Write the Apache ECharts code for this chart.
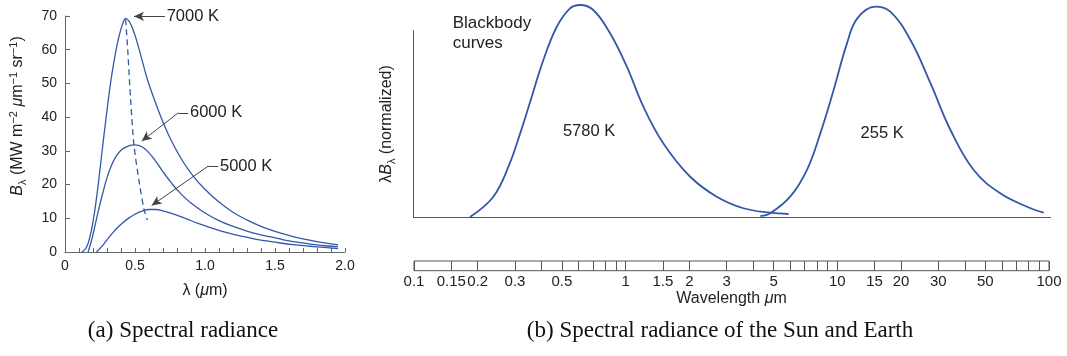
<!DOCTYPE html>
<html>
<head>
<meta charset="utf-8">
<script src="https://cdn.jsdelivr.net/npm/echarts@6/dist/echarts.min.js"></script>
<style>
  html, body { margin: 0; padding: 0; background: #fff; }
  #chart { width: 1067px; height: 356px; }
</style>
</head>
<body>
<div id="chart"></div>
<script>
// (a) spectral radiance, wavelength in um, B in MW m-2 um-1 sr-1
var lam7000 = [0.12, 0.15, 0.175, 0.2, 0.225, 0.25, 0.275, 0.3, 0.325, 0.35, 0.375, 0.4, 0.42, 0.433, 0.46, 0.49, 0.52, 0.55, 0.59, 0.64, 0.7, 0.76, 0.84, 0.92, 1.0, 1.1, 1.2, 1.3, 1.4, 1.5, 1.6, 1.7, 1.8, 1.9, 1.95]
var b7000 = [0, 1.2, 4.0, 9.0, 16.0, 24.5, 33.5, 42.0, 50.0, 56.5, 62.0, 66.2, 68.5, 69.3, 68.3, 65.5, 61.5, 57.0, 51.0, 45.0, 38.5, 33.0, 27.0, 22.3, 18.6, 14.8, 11.8, 9.5, 7.6, 6.1, 4.9, 3.9, 3.1, 2.4, 2.1]
var lam6000 = [0.165, 0.19, 0.215, 0.24, 0.27, 0.3, 0.33, 0.36, 0.4, 0.45, 0.5, 0.55, 0.6, 0.65, 0.7, 0.76, 0.82, 0.9, 1.0, 1.1, 1.2, 1.3, 1.4, 1.5, 1.6, 1.7, 1.8, 1.9, 1.95]
var b6000 = [0, 3.5, 8.0, 12.5, 17.5, 22.0, 25.5, 28.0, 30.2, 31.4, 31.8, 31.2, 29.4, 26.8, 23.8, 20.5, 17.6, 14.5, 11.6, 9.3, 7.6, 6.2, 5.1, 4.2, 3.3, 2.7, 2.1, 1.7, 1.5]
var lam5000 = [0.225, 0.26, 0.3, 0.35, 0.4, 0.45, 0.5, 0.55, 0.6, 0.65, 0.7, 0.75, 0.85, 0.95, 1.05, 1.15, 1.25, 1.35, 1.45, 1.55, 1.65, 1.75, 1.85, 1.95]
var b5000 = [0, 1.5, 3.6, 6.1, 8.2, 9.9, 11.2, 12.1, 12.6, 12.6, 12.2, 11.6, 10.1, 8.5, 7.1, 5.8, 4.8, 3.9, 3.2, 2.6, 2.1, 1.7, 1.35, 1.0]
var lamPeak = [0.433, 0.448, 0.469, 0.493, 0.531, 0.564, 0.588]
var bPeak = [69, 60, 45, 31.6, 20.5, 12.7, 9.5]
var tempLabels = ['7000 K', '6000 K', '5000 K']

// (b) normalized lambda*B, wavelength in um
var sunLam = [0.1845, 0.2377, 0.28, 0.318, 0.3605, 0.409, 0.473, 0.546, 0.609, 0.703, 0.843, 1.011, 1.21, 1.5, 2.01, 2.68, 3.58, 4.79, 5.84]
var sunVal = [0, 0.109, 0.27, 0.449, 0.646, 0.843, 1.021, 1.12, 1.138, 1.111, 0.986, 0.807, 0.592, 0.396, 0.216, 0.109, 0.047, 0.023, 0.016]
var earthLam = [4.3, 4.79, 5.94, 7.12, 8.24, 9.52, 11.0, 12.3, 14.96, 17.6, 21.9, 27.2, 33.8, 43.5, 58.0, 77.6, 92.9]
var earthVal = [0.005, 0.02, 0.109, 0.252, 0.449, 0.682, 0.932, 1.066, 1.129, 1.102, 0.95, 0.718, 0.467, 0.252, 0.127, 0.055, 0.023]

// wavelength ruler
var rulerTicks = [0.1, 0.15, 0.2, 0.3, 0.4, 0.5, 0.6, 0.7, 0.8, 0.9, 1, 1.5, 2, 3, 4, 5, 6, 7, 8, 9, 10, 15, 20, 30, 40, 50, 60, 70, 80, 90, 100]
var rulerLabels = ['0.1', '0.15', '0.2', '0.3', '0.5', '1', '1.5', '2', '3', '5', '10', '15', '20', '30', '50', '100']

var FONT = 'Liberation Sans, Arial, sans-serif'
var SERIF = 'Liberation Serif, Times New Roman, serif'
var BLUE = '#3358a8'
var AXIS = '#666'

function zip (xs, ys) {
  var out = []
  for (var i = 0; i < xs.length; i++) out.push([xs[i], ys[i]])
  return out
}

var tickLogs = rulerTicks.map(function (v) { return Math.log10(v) })
var labelLogs = rulerLabels.map(function (s) { return Math.log10(parseFloat(s)) })

function curve (name, data, xi, width, extra) {
  var s = {
    name: name,
    type: 'line',
    xAxisIndex: xi,
    yAxisIndex: xi,
    data: data,
    smooth: 0.5,
    symbol: 'none',
    clip: false,
    lineStyle: { color: BLUE, width: width }
  }
  for (var k in extra) s[k] = extra[k]
  return s
}

var arrowLine = { color: '#444', width: 1, type: 'solid' }
var richText = function (size) {
  return {
    n: { fontSize: size, color: '#222', fontFamily: FONT },
    i: { fontSize: size, color: '#222', fontFamily: FONT, fontStyle: 'italic' }
  }
}

var option = {
  animation: false,
  textStyle: { fontFamily: FONT },
  grid: [
    { left: 65, top: 16, width: 280, height: 236 },
    { left: 413.5, top: 30.7, width: 637, height: 186.3 },
    { left: 414, top: 261, width: 635, height: 9.7, show: true, borderColor: '#555', borderWidth: 1 }
  ],
  xAxis: [
    {
      gridIndex: 0, type: 'value', min: 0, max: 2, interval: 0.5,
      axisLine: { lineStyle: { color: AXIS } },
      axisTick: { inside: true, length: 4, lineStyle: { color: AXIS } },
      minorTick: { show: true, splitNumber: 5, length: 4, lineStyle: { color: AXIS } },
      splitLine: { show: false },
      axisLabel: {
        margin: 7, fontSize: 14, color: '#222',
        formatter: function (v) { return v === 0 ? '0' : v.toFixed(1) }
      },
      name: '{n|λ (}{i|μ}{n|m)}', nameLocation: 'middle', nameGap: 31,
      nameTextStyle: { rich: richText(16) }
    },
    {
      gridIndex: 1, type: 'log', logBase: 10, min: 0.1, max: 100,
      axisLine: { lineStyle: { color: '#555' } },
      axisTick: { show: false }, axisLabel: { show: false }, splitLine: { show: false }
    },
    {
      gridIndex: 2, type: 'value', min: -1, max: 2,
      axisLine: { show: false },
      axisTick: { inside: true, length: 9.7, customValues: tickLogs, lineStyle: { color: '#555' } },
      axisLabel: {
        margin: 4, fontSize: 15, color: '#222', customValues: labelLogs,
        formatter: function (v) {
          var best = 0
          for (var i = 0; i < labelLogs.length; i++) {
            if (Math.abs(labelLogs[i] - v) < Math.abs(labelLogs[best] - v)) best = i
          }
          return rulerLabels[best]
        }
      },
      splitLine: { show: false },
      name: '{n|Wavelength }{i|μ}{n|m}', nameLocation: 'middle', nameGap: 20,
      nameTextStyle: { rich: richText(16) }
    }
  ],
  yAxis: [
    {
      gridIndex: 0, type: 'value', min: 0, max: 70, interval: 10,
      axisLine: { show: true, lineStyle: { color: AXIS } },
      axisTick: { show: true, inside: true, length: 5, lineStyle: { color: AXIS } },
      splitLine: { show: false },
      axisLabel: { margin: 8, fontSize: 14, color: '#222' }
    },
    {
      gridIndex: 1, type: 'value', min: 0, max: 1,
      axisLine: { show: true, lineStyle: { color: '#555' } },
      axisTick: { show: false }, axisLabel: { show: false }, splitLine: { show: false }
    },
    { gridIndex: 2, type: 'value', min: 0, max: 1, show: false }
  ],
  series: [
    curve(tempLabels[0], zip(lam7000, b7000), 0, 1.3, {
      markLine: {
        silent: true, symbol: 'none', label: { show: false }, lineStyle: arrowLine,
        data: [
          [{ coord: [0.714, 69.9], symbol: 'none' }, { coord: [0.493, 69.9], symbol: 'arrow', symbolSize: [7, 10] }],
          [{ coord: [0.881, 41.3], symbol: 'none' }, { coord: [0.81, 41.3], symbol: 'none' }],
          [{ coord: [0.81, 41.3], symbol: 'none' }, { coord: [0.548, 32.9], symbol: 'arrow', symbolSize: [7, 10] }],
          [{ coord: [1.095, 25.5], symbol: 'none' }, { coord: [1.024, 25.5], symbol: 'none' }],
          [{ coord: [1.024, 25.5], symbol: 'none' }, { coord: [0.619, 13.8], symbol: 'arrow', symbolSize: [7, 10] }]
        ]
      },
      markPoint: {
        silent: true, symbol: 'circle', symbolSize: 0,
        label: { show: true, position: 'right', distance: 0, color: '#222', fontSize: 16.5, fontFamily: FONT, formatter: '{b}' },
        data: [
          { name: tempLabels[0], coord: [0.726, 69.9] },
          { name: tempLabels[1], coord: [0.893, 41.3] },
          { name: tempLabels[2], coord: [1.107, 25.4] }
        ]
      }
    }),
    curve(tempLabels[1], zip(lam6000, b6000), 0, 1.3),
    curve(tempLabels[2], zip(lam5000, b5000), 0, 1.3),
    {
      type: 'line', xAxisIndex: 0, yAxisIndex: 0, data: zip(lamPeak, bPeak),
      smooth: 0.3, symbol: 'none', lineStyle: { color: BLUE, width: 1.3, type: [6, 4] }
    },
    curve('5780 K', zip(sunLam, sunVal), 1, 1.8, {
      smooth: 0.4,
      markPoint: {
        silent: true, symbol: 'circle', symbolSize: 0,
        label: { show: true, position: 'inside', color: '#222', fontSize: 16.5, formatter: '{b}' },
        data: [
          { name: '5780 K', coord: [0.671, 0.46] },
          { name: '255 K', coord: [16.1, 0.449] }
        ]
      }
    }),
    curve('255 K', zip(earthLam, earthVal), 1, 1.8, {
      smooth: 0.4,
      markPoint: {
        silent: true, symbol: 'circle', symbolSize: 0,
        label: { show: true, position: 'right', distance: 0, color: '#222', fontSize: 17, lineHeight: 20, formatter: 'Blackbody\ncurves' },
        data: [{ name: 'Blackbody curves', coord: [0.153, 0.988] }]
      }
    })
  ],
  graphic: [
    {
      type: 'text', x: 18, y: 116, rotation: Math.PI / 2,
      style: {
        text: '{bi|B}{sub|λ}{n| (MW m}{sup|−2}{n| }{i|μ}{n|m}{sup|−1}{n| sr}{sup|−1}{n|)}',
        align: 'center', verticalAlign: 'middle', fill: '#222',
        rich: {
          n: { fontSize: 16, lineHeight: 20, fontFamily: FONT, fill: '#222' },
          i: { fontSize: 16, lineHeight: 20, fontFamily: FONT, fontStyle: 'italic', fill: '#222' },
          bi: { fontSize: 16, lineHeight: 20, fontFamily: FONT, fontStyle: 'italic', fill: '#222' },
          sup: { fontSize: 11, lineHeight: 11, fontFamily: FONT, verticalAlign: 'top', fill: '#222' },
          sub: { fontSize: 11, lineHeight: 11, fontFamily: FONT, verticalAlign: 'bottom', fill: '#222' }
        }
      }
    },
    {
      type: 'text', x: 387, y: 124, rotation: Math.PI / 2,
      style: {
        text: '{n|λ}{bi|B}{sub|λ}{n| (normalized)}',
        align: 'center', verticalAlign: 'middle', fill: '#222',
        rich: {
          n: { fontSize: 16, lineHeight: 20, fontFamily: FONT, fill: '#222' },
          bi: { fontSize: 16, lineHeight: 20, fontFamily: FONT, fontStyle: 'italic', fill: '#222' },
          sub: { fontSize: 11, lineHeight: 11, fontFamily: FONT, verticalAlign: 'bottom', fill: '#222' }
        }
      }
    },
    {
      type: 'text', x: 183, y: 331,
      style: { text: '(a) Spectral radiance', align: 'center', verticalAlign: 'middle', fontSize: 23, fontFamily: SERIF, fill: '#111' }
    },
    {
      type: 'text', x: 720, y: 331,
      style: { text: '(b) Spectral radiance of the Sun and Earth', align: 'center', verticalAlign: 'middle', fontSize: 23, fontFamily: SERIF, fill: '#111' }
    }
  ]
}

var chart = echarts.init(document.getElementById('chart'))
chart.setOption(option)
window.onresize = function () { chart.resize() }
</script>
</body>
</html>
